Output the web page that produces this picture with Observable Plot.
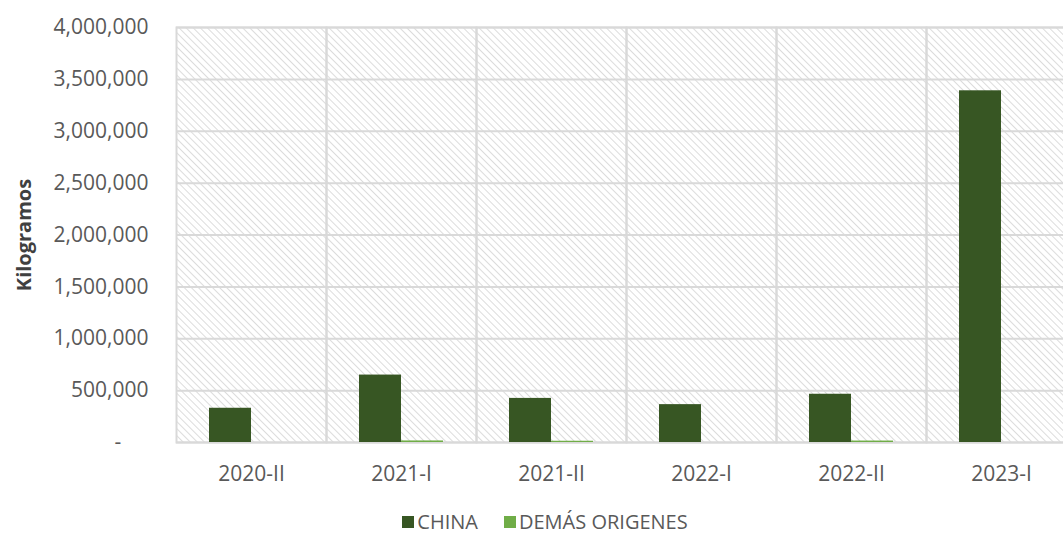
<!DOCTYPE html>
<html><head><meta charset="utf-8">
<script src="https://cdn.jsdelivr.net/npm/d3@7"></script>
<script src="https://cdn.jsdelivr.net/npm/@observablehq/plot@0.6"></script>
<style>
html,body{margin:0;padding:0;background:#fff;overflow:hidden;width:1063px;height:534px;}
#chart{position:relative;width:1100px;}
#chart svg{max-width:none !important;display:block;}
.legend{position:absolute;top:511px;left:0;width:1090px;height:22px;display:flex;justify-content:center;gap:26px;font-family:"Open Sans",sans-serif;font-size:20px;line-height:22px;color:#595959;}
.legend span{display:inline-flex;align-items:center;}
.legend i{display:inline-block;width:12px;height:12px;margin-right:3px;}
</style></head>
<body>
<div id="chart"></div>
<script>
const periods = ["2020-II","2021-I","2021-II","2022-I","2022-II","2023-I"];
const series = ["CHINA","DEMÁS ORIGENES"];
const china = [330000, 650000, 425000, 365000, 465000, 3390000];
const demas = [0, 15000, 12000, 0, 14000, 0];
const yTicks = [0,500000,1000000,1500000,2000000,2500000,3000000,3500000,4000000];
const colors = ["#375623","#70ad47"];

const data = [];
periods.forEach((p,i)=>{
  data.push({period:p, serie:series[0], value:china[i]});
  data.push({period:p, serie:series[1], value:demas[i]});
});

const fmt = d => d === 0 ? "-\u00a0\u00a0\u00a0\u00a0\u00a0" : d3.format(",")(d);

const chart = Plot.plot({
  width: 1078,
  height: 500,
  marginLeft: 174,
  marginRight: 0,
  marginTop: 27,
  marginBottom: 58,
  style: {fontFamily: "'Open Sans', sans-serif", fontSize: "21px", color: "#595959", background: "#fff", maxWidth: "none"},
  fx: {domain: periods, padding: 0, label: null},
  x: {domain: series, axis: null, paddingInner: 0, paddingOuter: 0.756},
  y: {domain: [0,4000000], axis: null},
  color: {domain: series, range: colors},
  marks: [
    Plot.frame({fill: "url(#hatch)", stroke: "none"}),
    Plot.gridY(yTicks, {stroke: "#d9d9d9", strokeOpacity: 1, strokeWidth: 2}),
    Plot.frame({stroke: "#d9d9d9", strokeWidth: 2}),
    Plot.barY(data, {fx: "period", x: "serie", y: "value", fill: "serie"}),
    Plot.axisY({ticks: yTicks, tickFormat: fmt, tickSize: 0, tickPadding: 28, label: null, fill: "#595959", fontSize: 21}),
    Plot.axisFx({anchor: "bottom", tickSize: 0, tickPadding: 24, label: null, fill: "#595959", fontSize: 21}),
    Plot.text(["Kilogramos"], {frameAnchor: "left", textAnchor: "middle", dx: -152, rotate: -90, fontWeight: "bold", fill: "#404040", fontSize: 20, facetAnchor: "left"})
  ]
});

const svgNS = "http://www.w3.org/2000/svg";
const defs = document.createElementNS(svgNS, "defs");
defs.innerHTML = '<pattern id="hatch" patternUnits="userSpaceOnUse" width="5" height="5" patternTransform="rotate(-45)"><rect width="5" height="5" fill="#ffffff"/><line x1="0" y1="0" x2="0" y2="5" stroke="#d4d4d4" stroke-width="1.6"/></pattern>';
chart.insertBefore(defs, chart.firstChild);

const holder = document.getElementById("chart");
holder.appendChild(chart);
const leg = document.createElement("div");
leg.className = "legend";
leg.innerHTML = series.map((s,i)=>`<span><i style="background:${colors[i]}"></i>${s}</span>`).join("");
holder.appendChild(leg);
</script>
</body></html>
